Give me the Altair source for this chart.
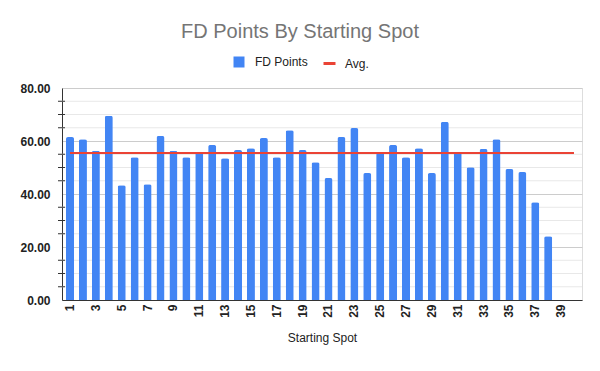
import altair as alt
import pandas as pd

spots = list(range(1, 41))
points = [61.5, 60.7, 56.3, 69.5, 43.3, 53.9, 43.7, 61.9, 56.3, 53.9,
          55.9, 58.5, 53.5, 56.6, 57.3, 61.1, 53.9, 64.1, 56.6, 52.0,
          46.0, 61.5, 64.9, 47.9, 55.6, 58.5, 53.9, 57.3, 47.9, 67.2,
          55.9, 50.1, 57.0, 60.7, 49.4, 48.3, 36.9, 24.1, None, None]
avg_value = 55.5
major_ticks = [0, 20, 40, 60, 80]
minor_ticks = [5, 10, 15, 25, 30, 35, 45, 50, 55, 65, 70, 75]

df = pd.DataFrame({
    "spot": spots,
    "points": points,
    "avg": [avg_value] * len(spots),
    "s1": ["FD Points"] * len(spots),
    "s2": ["Avg."] * len(spots),
})
minor_df = pd.DataFrame({"v": minor_ticks})

FONT = "Liberation Sans"

x_enc = alt.X(
    "spot:O",
    scale=alt.Scale(domain=spots, paddingInner=0.38, paddingOuter=0.31),
    axis=alt.Axis(
        labelAngle=270,
        labelExpr="datum.value % 2 == 1 ? datum.label : ''",
        labelFont=FONT, labelFontSize=12, labelFontWeight="bold", labelColor="#222222",
        labelPadding=4, labelOverlap=False, ticks=False, grid=False,
        domainColor="#333333", domainWidth=1,
        title="Starting Spot", titleFont=FONT, titleFontSize=12,
        titleFontWeight="normal", titleColor="#222222", titlePadding=15,
    ),
)

y_scale = alt.Scale(domain=[0, 80], nice=False, zero=True)

bars = alt.Chart(df).mark_bar(
    cornerRadiusTopLeft=2, cornerRadiusTopRight=2
).encode(
    x=x_enc,
    y=alt.Y(
        "points:Q", scale=y_scale,
        axis=alt.Axis(
            values=major_ticks, format=".2f",
            labelFont=FONT, labelFontSize=12, labelFontWeight="bold",
            labelColor="#222222", labelPadding=12, ticks=False,
            domainColor="#333333", gridColor="#cccccc", title=None,
        ),
    ),
    color=alt.Color(
        "s1:N", scale=alt.Scale(range=["#4285F4"]),
        legend=alt.Legend(
            orient="none", legendX=171, legendY=-32, title=None,
            symbolType="square", symbolSize=121, symbolStrokeWidth=0,
            labelFont=FONT, labelFontSize=12, labelColor="#222222",
            padding=0, labelOffset=10,
        ),
    ),
)

line = alt.Chart(df).mark_line(strokeWidth=2).encode(
    x=alt.X("spot:O"),
    y=alt.Y("avg:Q", scale=y_scale),
    stroke=alt.Stroke(
        "s2:N", scale=alt.Scale(range=["#EA4335"]),
        legend=alt.Legend(
            orient="none", legendX=260, legendY=-32, title=None,
            symbolType="stroke", symbolSize=144, symbolStrokeWidth=3,
            labelFont=FONT, labelFontSize=12, labelColor="#222222",
            padding=0, labelOffset=8,
        ),
    ),
)

minor_grid = alt.Chart(minor_df).mark_rule(color="#e8e8e8", strokeWidth=1).encode(
    y=alt.Y("v:Q", scale=y_scale)
)

minor_tick_marks = alt.Chart(minor_df).mark_rule(color="#333333", strokeWidth=1).encode(
    y=alt.Y("v:Q", scale=y_scale),
    x=alt.value(-4),
    x2=alt.value(3),
)

chart = alt.layer(minor_grid, bars, line, minor_tick_marks).properties(
    width=520,
    height=212,
    padding={"left": 62, "top": 88, "right": 18, "bottom": 71},
    autosize=alt.AutoSizeParams(type="none"),
    title=alt.TitleParams(
        "FD Points By Starting Spot", font=FONT, fontSize=20,
        fontWeight="normal", color="#757575", anchor="middle", dx=-22, offset=14,
    ),
).configure_view(stroke=None).configure(background="white")

chart.save("out.html", embed_options={"renderer": "svg", "actions": False})
